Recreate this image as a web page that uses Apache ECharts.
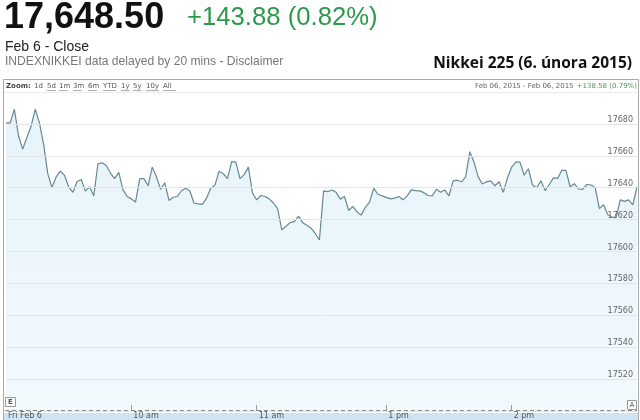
<!DOCTYPE html>
<html>
<head>
<meta charset="utf-8">
<script src="https://cdn.jsdelivr.net/npm/echarts@6/dist/echarts.min.js"></script>
<style>
html,body{margin:0;padding:0;background:#fff;}
#chart{width:640px;height:420px;}
</style>
</head>
<body>
<div id="chart"></div>
<script>
// ---- data ----
var morningSession = ['09:00', '11:30'];
var afternoonSession = ['12:30', '15:00'];
var stepMinutes = 2;

var values = [
  17680.6, 17680.6, 17689.2, 17672.4, 17664.2, 17671.5, 17678.5, 17689.2, 17680.6, 17667.3,
  17648.8, 17640.0, 17646.8, 17650.4, 17647.8, 17640.6, 17637.1, 17643.7, 17645.1, 17637.9,
  17640.6, 17634.9, 17655.0, 17655.6, 17653.9, 17649.2, 17645.7, 17649.6, 17638.6, 17634.5,
  17633.0, 17631.0, 17645.7, 17645.7, 17641.2, 17652.9, 17646.8, 17639.0, 17643.1, 17632.0,
  17634.0, 17634.5, 17638.1, 17639.6, 17637.9, 17630.4, 17629.9, 17629.5, 17633.5, 17639.6,
  17641.6, 17650.3, 17648.8, 17645.7, 17656.4, 17656.0, 17645.7, 17648.2, 17652.9, 17636.5,
  17632.4, 17635.1, 17634.5, 17633.0, 17630.4, 17626.9, 17613.6, 17615.8, 17618.1, 17618.7,
  17622.2, 17618.1, 17616.4, 17614.6, 17611.3, 17607.2,
  17638.0, 17637.5, 17638.6, 17637.1, 17632.8, 17634.5, 17625.7, 17628.3, 17624.8, 17622.8,
  17627.7, 17631.0, 17639.6, 17635.9, 17634.9, 17633.9, 17633.0, 17633.5, 17634.5, 17632.4,
  17634.9, 17638.6, 17638.2, 17638.0, 17636.9, 17635.1, 17634.9, 17639.0, 17637.1, 17638.6,
  17634.9, 17644.3, 17644.7, 17643.7, 17646.8, 17662.6, 17656.0, 17646.8, 17642.3, 17643.7,
  17644.3, 17641.2, 17643.7, 17637.1, 17646.2, 17652.9, 17656.0, 17656.0, 17647.8, 17651.9,
  17641.7, 17640.0, 17644.3, 17638.2, 17642.0, 17646.2, 17645.8, 17650.9, 17650.9, 17640.6,
  17642.5, 17639.2, 17639.0, 17642.0, 17641.7, 17640.0, 17626.9, 17629.3, 17623.2, 17621.6,
  17621.2, 17632.4, 17631.4, 17632.4, 17629.3, 17640.6
];

var tickLabels = {'09:00': 'Fri Feb 6', '10:00': '10 am', '11:00': '11 am', '13:00': '1 pm', '14:00': '2 pm'};
var yMin = 17500, yMax = 17700, yStep = 20;

var headline = '17,648.50';
var headlineChange = '+143.88 (0.82%)';
var subLine = 'Feb 6 - Close';
var noteLine = 'INDEXNIKKEI data delayed by 20 mins - Disclaimer';
var chartTitle = 'Nikkei 225 (6. února 2015)';
var zoomLinks = ['1d', '5d', '1m', '3m', '6m', 'YTD', '1y', '5y', '10y', 'All'];
var rangeText = 'Feb 06, 2015 - Feb 06, 2015';
var rangeChange = '+138.58 (0.79%)';

// ---- categories (trading minutes, lunch break removed) ----
function toMin(s){var p=s.split(':');return +p[0]*60 + +p[1];}
function toStr(m){var h=Math.floor(m/60),mm=m%60;return (h<10?'0':'')+h+':'+(mm<10?'0':'')+mm;}
var categories = [];
[morningSession, afternoonSession].forEach(function(s){
  for (var m = toMin(s[0]); m <= toMin(s[1]); m += stepMinutes) categories.push(toStr(m));
});

// ---- graphics ----
var zoomX = [34, 47, 59, 73, 88, 103, 121, 133, 146, 163];
var g = [
  {type:'text', x:4, y:18, z:20, style:{text:headline, font:'bold 36px "Liberation Sans", Arial, sans-serif', fill:'#111', textVerticalAlign:'middle'}},
  {type:'text', x:187, y:18, z:20, style:{text:headlineChange, font:'25.7px "Liberation Sans", Arial, sans-serif', fill:'#2d9a4a', textVerticalAlign:'middle'}},
  {type:'text', x:5, y:47, z:20, style:{text:subLine, font:'14px "Liberation Sans", Arial, sans-serif', fill:'#222', textVerticalAlign:'middle'}},
  {type:'text', x:5, y:62, z:20, style:{text:noteLine, font:'12.1px "Liberation Sans", Arial, sans-serif', fill:'#777', textVerticalAlign:'middle'}},
  {type:'text', x:632, y:64, z:20, style:{text:chartTitle, font:'bold 15.5px "Open Sans", "Noto Sans", sans-serif', fill:'#111', textAlign:'right', textVerticalAlign:'middle'}},
  // frame
  {type:'rect', z:20, shape:{x:3.5, y:79.5, width:635, height:345}, style:{fill:'none', stroke:'#a9a9a9', lineWidth:1}},
  {type:'line', z:20, shape:{x1:4, y1:92.5, x2:638, y2:92.5}, style:{stroke:'#ececec', lineWidth:1}},
  {type:'text', x:6, y:86, z:20, style:{text:'Zoom:', font:'bold 7px "DejaVu Sans", Verdana, sans-serif', fill:'#444', textVerticalAlign:'middle'}},
  {type:'text', x:475, y:86, z:20, style:{text:rangeText, font:'7px "DejaVu Sans", Verdana, sans-serif', fill:'#666', textVerticalAlign:'middle'}},
  {type:'text', x:637, y:86, z:20, style:{text:rangeChange, font:'7px "DejaVu Sans", Verdana, sans-serif', fill:'#4d9a5a', textAlign:'right', textVerticalAlign:'middle'}},
  // bottom band and dashed line
  {type:'rect', z:5, shape:{x:4, y:413, width:634, height:8}, style:{fill:'#cfe3f3'}},
  {type:'line', z:6, shape:{x1:5, y1:410.5, x2:637, y2:410.5}, style:{stroke:'#8a8a8a', lineWidth:1, lineDash:[4,3]}},
  // flags
  {type:'rect', z:21, shape:{x:5.5, y:397.5, width:10, height:9}, style:{fill:'#fff', stroke:'#999', lineWidth:1}},
  {type:'text', x:10.5, y:402, z:22, style:{text:'E', font:'bold 7px "DejaVu Sans", sans-serif', fill:'#555', textAlign:'center', textVerticalAlign:'middle'}},
  {type:'rect', z:21, shape:{x:627.5, y:400.5, width:9, height:9}, style:{fill:'#fff', stroke:'#999', lineWidth:1}},
  {type:'text', x:632, y:405, z:22, style:{text:'A', font:'7px "DejaVu Sans", sans-serif', fill:'#555', textAlign:'center', textVerticalAlign:'middle'}}
];
zoomLinks.forEach(function(t, i){
  g.push({type:'text', x:zoomX[i], y:86, z:20, style:{text:t, font:'7px "DejaVu Sans", Verdana, sans-serif', fill:'#555', textVerticalAlign:'middle'}});
  if (i > 0) {
    var w = t.length * 4.3;
    g.push({type:'line', z:20, shape:{x1:zoomX[i], y1:90.5, x2:zoomX[i]+w, y2:90.5}, style:{stroke:'#777', lineWidth:0.6}});
  }
});

var chart = echarts.init(document.getElementById('chart'));
chart.setOption({
  animation: false,
  backgroundColor: '#ffffff',
  graphic: g,
  grid: {left: 6, right: 3, top: 92, bottom: 3.5},
  xAxis: {
    type: 'category',
    data: categories,
    boundaryGap: false,
    z: 10,
    axisLine: {show: false},
    axisTick: {
      show: true, inside: true, length: 6,
      interval: function(i, v){ return v !== '09:00' && tickLabels.hasOwnProperty(v); },
      lineStyle: {color: '#9a9a9a'}
    },
    axisLabel: {
      interval: function(i, v){ return tickLabels.hasOwnProperty(v); },
      formatter: function(v){ return tickLabels[v] || ''; },
      align: 'left', margin: 1, padding: [0,0,0,2],
      fontSize: 8, color: '#555', fontFamily: '"DejaVu Sans", Verdana, sans-serif'
    },
    splitLine: {show: false}
  },
  yAxis: {
    type: 'value',
    position: 'right',
    min: yMin, max: yMax, interval: yStep,
    z: 10,
    axisLine: {show: false},
    axisTick: {show: false},
    axisLabel: {
      inside: true, margin: 4, showMinLabel: false, showMaxLabel: false,
      formatter: function(v){ return String(v); },
      verticalAlign: 'bottom', fontSize: 8, color: '#666',
      fontFamily: '"DejaVu Sans", Verdana, sans-serif'
    },
    splitLine: {lineStyle: {color: '#e4e4e4', width: 1}}
  },
  series: [{
    type: 'line',
    data: values,
    symbol: 'none',
    z: 2,
    lineStyle: {color: '#66898f', width: 1.2},
    areaStyle: {
      origin: 'start',
      color: new echarts.graphic.LinearGradient(0, 0, 0, 1, [
        {offset: 0, color: '#dcEEF9'},
        {offset: 1, color: '#ecf7fd'}
      ])
    }
  }]
});
</script>
</body>
</html>
